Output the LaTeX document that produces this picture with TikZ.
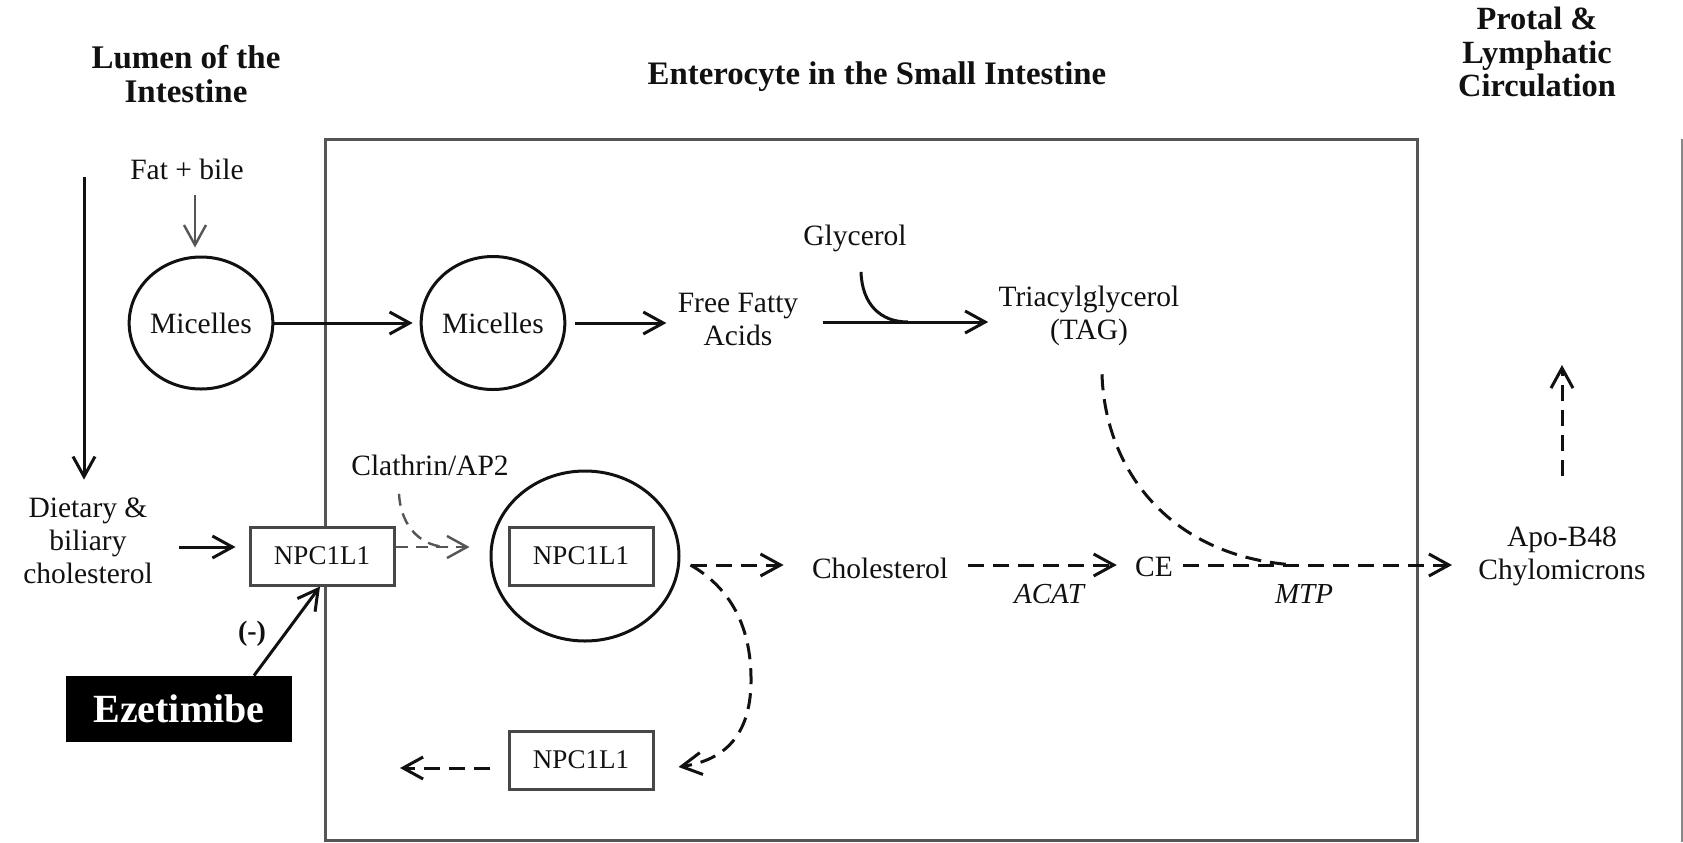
\documentclass[tikz,border=0pt]{standalone}
\usepackage{fontspec}
\setmainfont{Liberation Serif}
\usetikzlibrary{arrows.meta,shapes.geometric,calc}
\definecolor{ink}{HTML}{111111}
\definecolor{edge}{HTML}{474747}
\definecolor{wall}{HTML}{555555}
\begin{document}
\begin{tikzpicture}[x=0.5pt,y=-0.5pt,
  every node/.style={inner sep=0pt, text=ink},
  txt/.style={align=center, font=\fontsize{14.75pt}{16.5pt}\selectfont},
  ttl/.style={align=center, font=\bfseries\fontsize{15pt}{16.7pt}\selectfont},
  enz/.style={font=\itshape\fontsize{14.5pt}{16.5pt}\selectfont},
  pbox/.style={draw=edge, fill=white, line width=1.5pt, minimum width=72pt, minimum height=29pt,
    font=\fontsize{13.5pt}{15pt}\selectfont},
  ves/.style={draw=ink, ellipse, line width=1.5pt, font=\fontsize{14.75pt}{16.5pt}\selectfont},
  tipped/.style={-{Straight Barb[length=10pt,width=11pt]}},
  arr/.style={draw=ink, line width=1.5pt, tipped},
  darr/.style={arr, dash pattern=on 8pt off 4.5pt},
  dline/.style={draw=ink, line width=1.5pt, dash pattern=on 8pt off 4.5pt},
  garr/.style={draw=wall, line width=1.2pt, tipped},
]
\useasboundingbox (0,0) rectangle (1683,842);

% compartment walls
\draw[wall, line width=1.5pt] (325,139) rectangle (1417,840);
\draw[wall!70, line width=1pt] (1682,139) -- (1682,842);

% compartment titles
\node[ttl, font=\bfseries\fontsize{16.5pt}{16.6pt}\selectfont] (lumen) at (186,74) {Lumen of the\\Intestine};
\node[ttl, font=\bfseries\fontsize{16.4pt}{16.6pt}\selectfont] (entero) at (877,77) {Enterocyte in the Small Intestine};
\node[ttl, font=\bfseries\fontsize{16.2pt}{16.6pt}\selectfont] (portal) at (1537,52) {Protal \&\\Lymphatic\\Circulation};

% lumen side
\node[txt] (fat) at (187,169) {Fat + bile};
\node[ves, minimum width=71.5pt, minimum height=66pt] (m1) at (201,323) {Micelles};
\node[txt] (diet) at (88,541) {Dietary \&\\biliary\\cholesterol};
\node[fill=black, minimum width=113pt, minimum height=33pt, text=white,
      font=\bfseries\fontsize{20pt}{22pt}\selectfont] (ez) at (179,709) {Ezetimibe};
\node[font=\bfseries\fontsize{14pt}{16pt}\selectfont] (neg) at (252,634) {(-)};

% enterocyte
\node[ves, minimum width=70pt, minimum height=66.5pt] (m2) at (493,323) {Micelles};
\node[txt] (ffa) at (738,319) {Free Fatty\\Acids};
\node[txt] (glyc) at (855,238) {Glycerol};
\node[txt] (tag) at (1089,316) {Triacylglycerol\\(TAG)};
\node[txt] (clath) at (430,465) {Clathrin/AP2};
\node[ves, minimum width=94pt, minimum height=85pt] (c3) at (585,556) {};
\node[pbox] (box2) at (581,556) {NPC1L1};
\node[pbox] (box3) at (581,760) {NPC1L1};
\node[txt] (chol) at (880,568) {Cholesterol};
\node[txt] (ce) at (1154,567) {CE};
\node[enz] (acat) at (1049,594) {ACAT};
\node[enz] (mtp) at (1304,594) {MTP};

% circulation
\node[txt] (apo) at (1562,556) {Apo-B48\\Chylomicrons};

% free ends and junctions
\coordinate (lumtop) at (84,177);
\coordinate (outtop) at (1562,365);
\coordinate (recyc) at (400,768);
\coordinate (c3out) at ([shift={(5pt,-4.5pt)}]c3.east);
\coordinate (tagjoin) at (1295,565);
\coordinate (glyjoin) at (908,322);

% lumen flow
\draw[arr, shorten >=9pt] (lumtop) -- (lumtop |- diet.north);
\draw[garr, shorten <=7.5pt, shorten >=4pt] ([xshift=4pt]fat.south) -- ([xshift=4pt]fat.south |- m1.north);
\draw[arr, shorten >=3.5pt] (m1) -- (m2);

% membrane transporter at the brush border, drawn over the wall
\node[pbox] (box1) at (322,556) {NPC1L1};
\draw[arr, shorten <=13pt, shorten >=6.5pt] ([yshift=-3pt]diet.east) -- ([yshift=-3pt]diet.east -| box1.west);
\draw[arr] ([xshift=37.5pt]ez.north) -- ([xshift=-1pt]box1.south);

% fat pathway
\draw[arr, shorten <=4.5pt, shorten >=5.5pt] (m2.east) -- (m2.east -| ffa.west);
\draw[arr, shorten <=12pt, shorten >=5pt] ([yshift=-1.5pt]ffa.east) -- ([yshift=-1.5pt]ffa.east -| tag.west);
\draw[ink, line width=1.5pt] ([xshift=3pt,yshift=-10pt]glyc.south) .. controls +(1,32) and +(-28,0) .. (glyjoin);
\draw[dline] ([xshift=6.5pt,yshift=-14pt]tag.south) .. controls (1105,470) and (1170,557) .. (tagjoin);

% cholesterol pathway
\draw[garr, dash pattern=on 6pt off 4pt, shorten >=10pt] ([yshift=4.5pt]box1.east) -- ([yshift=4.5pt]box1.east -| c3.west);
\draw[draw=wall, line width=1.2pt, dash pattern=on 6pt off 4pt]
  ([xshift=-15.5pt,yshift=-9pt]clath.south) .. controls +(2,35) and +(-25,0) .. ([yshift=4.5pt]box1.east -| 448,0);
\draw[darr, shorten >=14pt] (c3out) -- (c3out -| chol.west);
\draw[darr, shorten <=10pt, shorten >=9pt] (c3out -| chol.east) -- (c3out -| ce.west);
\draw[darr, shorten <=5pt, shorten >=13pt] (c3out -| ce.east) -- (c3out -| apo.west);
\draw[darr] (c3out) .. controls (725,585) and (752,620) .. (751,683)
  .. controls (750,735) and (725,760) .. ([xshift=12pt,yshift=-3.5pt]box3.east);
\draw[darr, shorten <=9pt] ([yshift=-4pt]box3.west) -- (recyc);
\draw[darr, shorten <=25pt] (apo.north) -- (outtop);

\end{tikzpicture}
\end{document}
